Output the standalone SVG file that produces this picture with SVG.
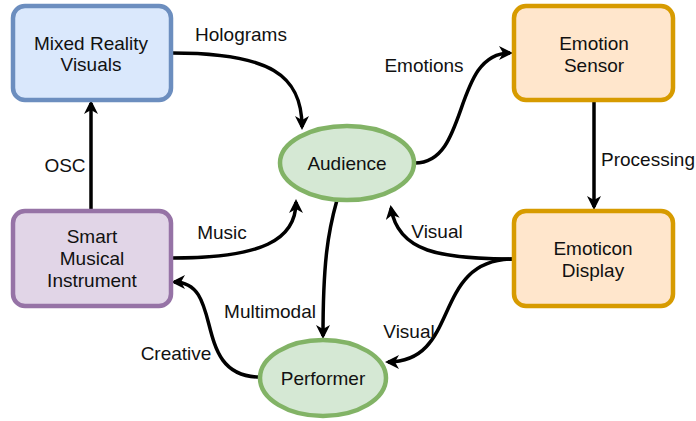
<svg xmlns="http://www.w3.org/2000/svg" width="696" height="421" viewBox="0 0 696 421">
<style>
text{font-family:"Liberation Sans",Arial,sans-serif;font-size:19px;fill:#111}
.c{text-anchor:middle}
.e{fill:none;stroke:#000;stroke-width:3.5}
.blue{fill:#dae8fc;stroke:#6c8ebf;stroke-width:4.5}
.purple{fill:#e1d5e7;stroke:#9673a6;stroke-width:4.5}
.orange{fill:#ffe6cc;stroke:#d79b00;stroke-width:4.5}
.green{fill:#d5e8d4;stroke:#82b366;stroke-width:4.5}
</style>
<defs>
<marker id="arr" markerUnits="userSpaceOnUse" markerWidth="16" markerHeight="14" viewBox="0 0 16 14" refX="11" refY="7" orient="auto">
<path d="M0,0 L14,7 L0,14 L4,7 z" fill="#000"/>
</marker>
</defs>
<rect width="696" height="421" fill="#fff"/>
<g id="connectors">
<path class="e" marker-end="url(#arr)" d="M91,210 L91,103"/>
<path class="e" marker-end="url(#arr)" d="M172,53 C270,53 302,75 302,127"/>
<path class="e" marker-end="url(#arr)" d="M415,163 C470,163 452,53 510,53"/>
<path class="e" marker-end="url(#arr)" d="M594,101 L594,207"/>
<path class="e" marker-end="url(#arr)" d="M514,259 C440,259 398,252 391,208"/>
<path class="e" marker-end="url(#arr)" d="M514,259 C430,259 462,362 388,362"/>
<path class="e" marker-end="url(#arr)" d="M172,258 C262,258 296,240 296,202"/>
<path class="e" marker-end="url(#arr)" d="M337,200 C328,232 323,262 323,336"/>
<path class="e" marker-end="url(#arr)" d="M260,377 C190,377 226,282 174,282"/>
<text x="241" y="41" class="c">Holograms</text>
<text x="65" y="172" class="c">OSC</text>
<text x="424" y="72" class="c">Emotions</text>
<text x="601" y="166">Processing</text>
<text x="222" y="239" class="c">Music</text>
<text x="270" y="318" class="c">Multimodal</text>
<text x="176" y="360" class="c">Creative</text>
<text x="437" y="238" class="c">Visual</text>
<text x="409" y="338" class="c">Visual</text>
</g>
<g id="mixed-reality">
<rect class="blue" x="13" y="6" width="158" height="94" rx="12"/>
<text x="91" y="50" class="c">Mixed Reality</text>
<text x="91" y="71" class="c">Visuals</text>
</g>
<g id="smart-instrument">
<rect class="purple" x="13" y="211" width="158" height="95" rx="12"/>
<text x="92" y="243" class="c">Smart</text>
<text x="92" y="265" class="c">Musical</text>
<text x="92" y="287" class="c">Instrument</text>
</g>
<g id="emotion-sensor">
<rect class="orange" x="514" y="6" width="159" height="94" rx="12"/>
<text x="594" y="50" class="c">Emotion</text>
<text x="594" y="72" class="c">Sensor</text>
</g>
<g id="emoticon-display">
<rect class="orange" x="514" y="211" width="159" height="95" rx="12"/>
<text x="593" y="255" class="c">Emoticon</text>
<text x="593" y="277" class="c">Display</text>
</g>
<g id="audience">
<ellipse class="green" cx="347" cy="163" rx="67" ry="37"/>
<text x="347" y="170" class="c">Audience</text>
</g>
<g id="performer">
<ellipse class="green" cx="323" cy="378" rx="63" ry="38"/>
<text x="323" y="385" class="c">Performer</text>
</g>
</svg>
